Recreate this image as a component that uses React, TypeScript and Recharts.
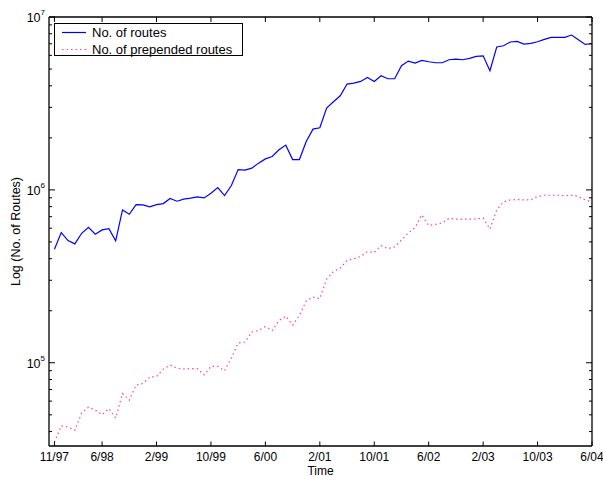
import React from "react";
import { LineChart, Line, XAxis, YAxis, Legend } from "recharts";

// months since 11/97 at which the time axis is labelled
const monthTicks = [0, 7, 15, 23, 31, 39, 47, 55, 63, 71, 79];
const monthLabels = ["11/97", "6/98", "2/99", "10/99", "6/00", "2/01", "10/01", "6/02", "2/03", "10/03", "6/04"];

// monthly counts, in thousands (11/97 .. 6/04)
const routesK = [
  454, 566, 509, 487, 561, 608, 554, 587, 597, 507,
  766, 723, 822, 819, 797, 822, 833, 891, 860, 884,
  895, 911, 899, 957, 1031, 927, 1059, 1311, 1300, 1336,
  1428, 1511, 1559, 1705, 1815, 1498, 1498, 1905, 2246, 2286,
  2972, 3233, 3502, 4094, 4149, 4238, 4468, 4238, 4573, 4393,
  4393, 5224, 5561, 5415, 5605, 5510, 5436, 5436, 5659, 5710,
  5659, 5758, 5912, 5966, 4888, 6703, 6821, 7168, 7220, 6977,
  7032, 7193, 7418, 7618, 7618, 7618, 7863, 7389, 6940, 7003,
];
const prependedK = [
  34.7, 43.2, 42.5, 40.7, 51.2, 55.4, 53.2, 50.1, 54.3, 47.9,
  66.4, 60.8, 74.3, 75.9, 82.6, 83.2, 92, 97, 93.2, 92,
  92.5, 92.5, 85.1, 95.3, 95.3, 89.9, 106.5, 130, 131.8, 150.6,
  153.6, 162, 153.6, 175.5, 186.3, 165.3, 187.6, 227.6, 240, 235,
  305, 337, 353, 391, 400, 412, 440, 435, 476, 457,
  468, 513, 563, 606, 717, 622, 632, 644, 685, 677,
  677, 677, 679, 688, 594, 766, 852, 875, 879, 875,
  875, 916, 931, 931, 931, 925, 931, 916, 875, 852,
];

const majorTicks = [1e5, 1e6, 1e7];
const logTicks = [
  4e4, 5e4, 6e4, 7e4, 8e4, 9e4, 1e5,
  2e5, 3e5, 4e5, 5e5, 6e5, 7e5, 8e5, 9e5, 1e6,
  2e6, 3e6, 4e6, 5e6, 6e6, 7e6, 8e6, 9e6, 1e7,
];

const data = routesK.map((r, i) => ({
  m: i,
  routes: r * 1000,
  prepended: prependedK[i] * 1000,
}));

const FONT = "'Liberation Sans', Arial, Helvetica, sans-serif";
const BLUE = "#0000ff";
const PINK = "#ff3fa4";

function LeftTick({ x, y, payload }: any) {
  const v = payload.value;
  const major = majorTicks.includes(v);
  return (
    <g>
      <line x1={x} x2={x + (major ? 6 : 3)} y1={y} y2={y} stroke="#000" strokeWidth={1} />
      {major && (
        <text x={x - 4} y={y + 5} textAnchor="end" fontSize={12.5} fill="#000" fontFamily={FONT}>
          10
          <tspan dy={-7} fontSize={8}>
            {Math.round(Math.log10(v))}
          </tspan>
        </text>
      )}
    </g>
  );
}

function RightTick({ x, y, payload }: any) {
  const major = majorTicks.includes(payload.value);
  return <line x1={x} x2={x - (major ? 6 : 3)} y1={y} y2={y} stroke="#000" strokeWidth={1} />;
}

function BottomTick({ x, y, payload }: any) {
  const idx = monthTicks.indexOf(payload.value);
  return (
    <g>
      <line x1={x} x2={x} y1={y} y2={y - 4.5} stroke="#000" strokeWidth={1} />
      <text x={x} y={y + 14.5} textAnchor="middle" fontSize={12} fill="#000" fontFamily={FONT}>
        {monthLabels[idx]}
      </text>
    </g>
  );
}

function TopTick({ x, y }: any) {
  return <line x1={x} x2={x} y1={y} y2={y + 5} stroke="#000" strokeWidth={1} />;
}

function TimeLabel({ viewBox }: any) {
  const vb = viewBox || { x: 49, y: 446, width: 543, height: 31 };
  return (
    <text x={vb.x + vb.width / 2} y={vb.y + 28.5} textAnchor="middle" fontSize={12} fill="#000" fontFamily={FONT}>
      Time
    </text>
  );
}

function YLabel({ viewBox }: any) {
  const vb = viewBox || { x: 0, y: 17, width: 49, height: 429 };
  const cx = vb.x + 15.5;
  const cy = vb.y + vb.height / 2;
  return (
    <text
      transform={`translate(${cx},${cy}) rotate(-90)`}
      textAnchor="middle"
      dominantBaseline="central"
      fontSize={12.5}
      fill="#000"
      fontFamily={FONT}
    >
      Log (No. of Routes)
    </text>
  );
}

function LegendBox() {
  const row = (label: string, color: string, dash?: string) => (
    <div style={{ display: "flex", alignItems: "center", height: 17 }}>
      <svg width={37} height={17} style={{ display: "block" }}>
        <line x1={7} x2={31} y1={8.5} y2={8.5} stroke={color} strokeWidth={1.2} strokeDasharray={dash} />
      </svg>
      <span style={{ fontSize: 13, color: "#000", fontFamily: FONT, whiteSpace: "nowrap" }}>{label}</span>
    </div>
  );
  return (
    <div
      style={{
        border: "1.5px solid #000",
        background: "#fff",
        width: 187,
        height: 31,
        paddingTop: 0,
        boxSizing: "content-box",
      }}
    >
      {row("No. of routes", BLUE)}
      {row("No. of prepended routes", PINK, "1.5 3")}
    </div>
  );
}

export default function App() {
  return (
    <div style={{ position: "absolute", left: 0, top: 0, width: 603, height: 477, background: "#fff" }}>
      <LineChart width={603} height={477} data={data} margin={{ top: 0, right: 0, bottom: 0, left: 0 }}>
        <XAxis
          xAxisId="b"
          dataKey="m"
          type="number"
          domain={[-0.8, 79]}
          allowDataOverflow
          ticks={monthTicks}
          interval={0}
          height={31}
          tickSize={0}
          tickMargin={0}
          tickLine={false}
          axisLine={{ stroke: "#000", strokeWidth: 1.3 }}
          tick={(p: any) => <BottomTick {...p} />}
          label={<TimeLabel />}
        />
        <XAxis
          xAxisId="t"
          orientation="top"
          dataKey="m"
          type="number"
          domain={[-0.8, 79]}
          allowDataOverflow
          ticks={monthTicks}
          interval={0}
          height={17}
          tickSize={0}
          tickMargin={0}
          tickLine={false}
          axisLine={{ stroke: "#000", strokeWidth: 1.3 }}
          tick={(p: any) => <TopTick {...p} />}
        />
        <YAxis
          yAxisId="l"
          type="number"
          scale="log"
          domain={[33000, 1e7]}
          allowDataOverflow
          ticks={logTicks}
          interval={0}
          width={49}
          tickSize={0}
          tickMargin={0}
          tickLine={false}
          axisLine={{ stroke: "#000", strokeWidth: 1.3 }}
          tick={(p: any) => <LeftTick {...p} />}
          label={<YLabel />}
        />
        <YAxis
          yAxisId="r"
          orientation="right"
          type="number"
          scale="log"
          domain={[33000, 1e7]}
          allowDataOverflow
          ticks={logTicks}
          interval={0}
          width={11}
          tickSize={0}
          tickMargin={0}
          tickLine={false}
          axisLine={{ stroke: "#000", strokeWidth: 1.3 }}
          tick={(p: any) => <RightTick {...p} />}
        />
        <Legend
          layout="vertical"
          align="center"
          verticalAlign="middle"
          content={() => <LegendBox />}
          wrapperStyle={{ position: "absolute", left: 54, top: 23, width: 190, height: 34 }}
        />
        <Line
          xAxisId="b"
          yAxisId="l"
          type="linear"
          dataKey="routes"
          name="No. of routes"
          stroke={BLUE}
          strokeWidth={1.2}
          dot={false}
          activeDot={false}
          isAnimationActive={false}
        />
        <Line
          xAxisId="b"
          yAxisId="l"
          type="linear"
          dataKey="prepended"
          name="No. of prepended routes"
          stroke={PINK}
          strokeWidth={1.2}
          strokeDasharray="1.5 3"
          dot={false}
          activeDot={false}
          isAnimationActive={false}
        />
      </LineChart>
    </div>
  );
}
